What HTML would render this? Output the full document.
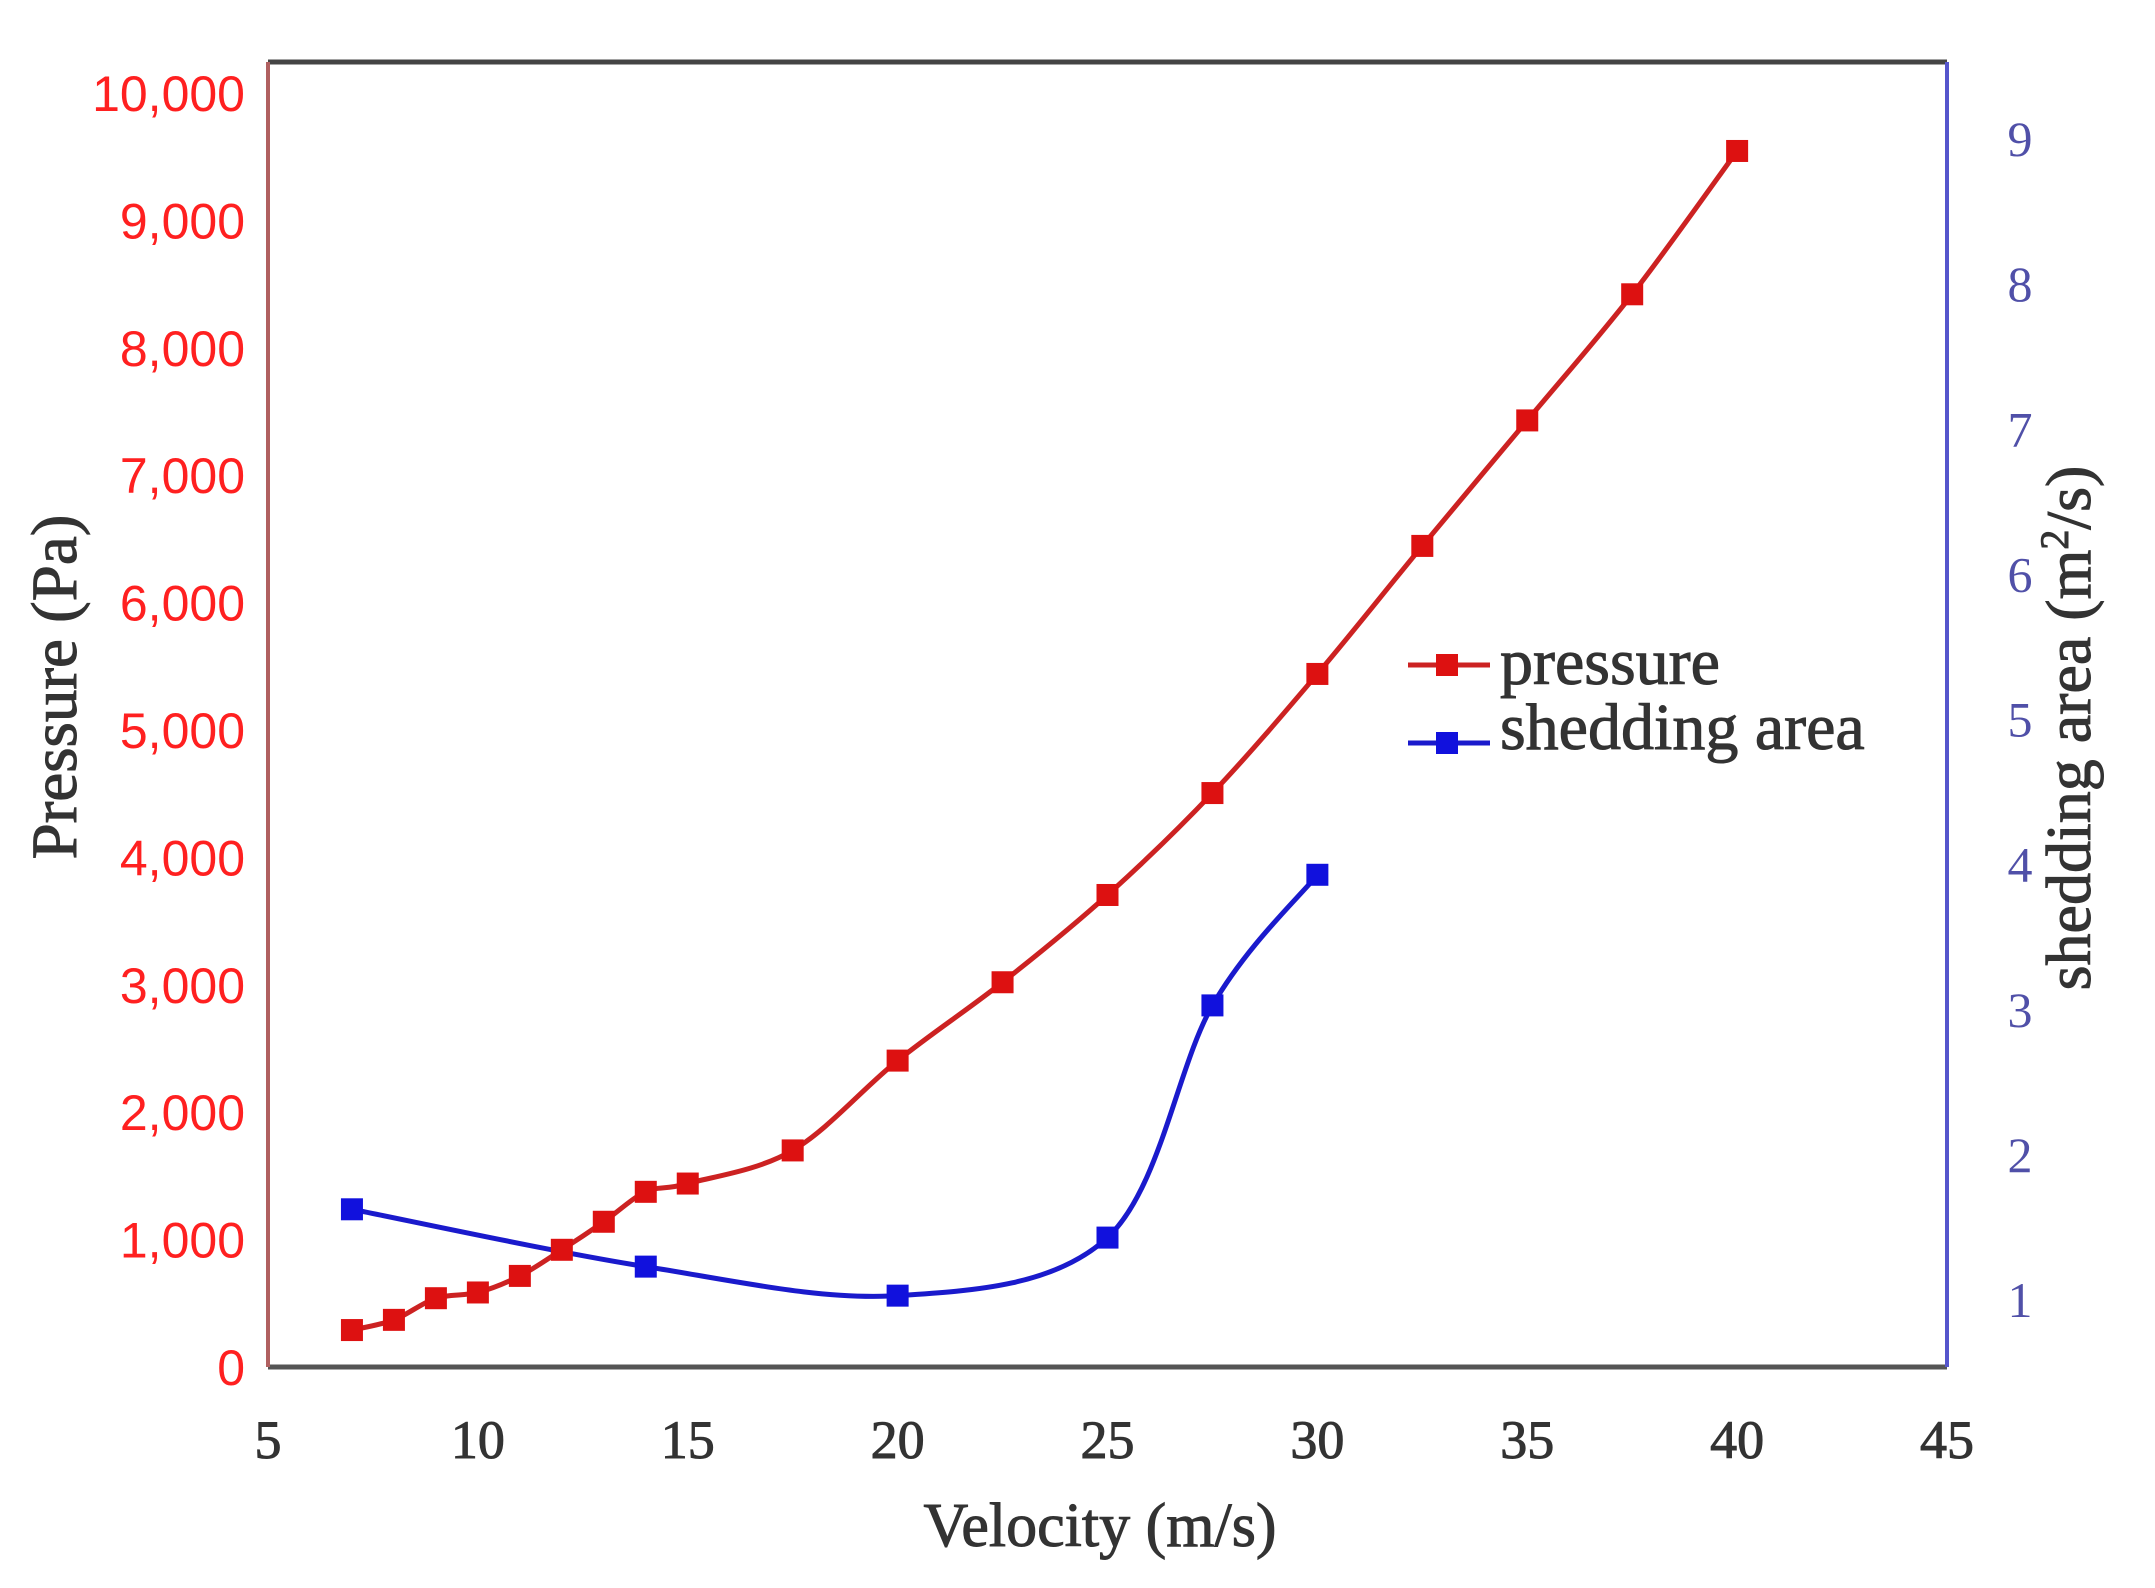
<!DOCTYPE html>
<html><head><meta charset="utf-8"><style>
html,body{margin:0;padding:0;background:#fff;}
svg{display:block;}
</style></head><body>
<svg id="s" width="2155" height="1588" xmlns="http://www.w3.org/2000/svg">
<rect width="2155" height="1588" fill="#fff"/>
<g id="plot"></g>
<line x1="268" y1="62" x2="1947" y2="62" stroke="#444" stroke-width="5"/>
<line x1="268" y1="1367" x2="1947" y2="1367" stroke="#555" stroke-width="5"/>
<line x1="268" y1="62" x2="268" y2="1367" stroke="#b06060" stroke-width="4"/>
<line x1="1947" y1="62" x2="1947" y2="1367" stroke="#5555cc" stroke-width="4"/>
<g id="ticks"></g>
<text x="1100" y="1546" font-family="Liberation Serif, serif" font-size="62" fill="#333" stroke="#333" stroke-width="1" text-anchor="middle">Velocity (m/s)</text>
<text transform="translate(76,687) rotate(-90)" font-family="Liberation Serif, serif" font-size="65" fill="#333" stroke="#333" stroke-width="1" text-anchor="middle">Pressure (Pa)</text>
<text transform="translate(2090,728) rotate(-90)" font-family="Liberation Serif, serif" font-size="64" fill="#333" stroke="#333" stroke-width="1" text-anchor="middle">shedding area (m<tspan font-size="40" dy="-22">2</tspan><tspan dy="22">/s)</tspan></text>
<line x1="1408" y1="665" x2="1490" y2="665" stroke="#cc2222" stroke-width="5"/>
<rect x="1436" y="654" width="22" height="22" fill="#dd1111"/>
<text x="1500" y="684" font-family="Liberation Serif, serif" font-size="66" fill="#333" stroke="#333" stroke-width="1">pressure</text>
<line x1="1408" y1="743" x2="1490" y2="743" stroke="#1a1acc" stroke-width="5"/>
<rect x="1436" y="732" width="22" height="22" fill="#1111dd"/>
<text x="1500" y="749" font-family="Liberation Serif, serif" font-size="66" fill="#333" stroke="#333" stroke-width="1">shedding area</text>
</svg>
<script>
var NS="http://www.w3.org/2000/svg";
function X(v){return 268+(v-5)*(1947-268)/40;}
function YL(v){return 1367-v*(1367-93)/10000;}
function YR(v){return 1300-(v-1)*(1300-139)/8;}
function el(t,a,p){var e=document.createElementNS(NS,t);for(var k in a)e.setAttribute(k,a[k]);if(p)p.appendChild(e);return e;}
var ticks=document.getElementById('ticks'),plot=document.getElementById('plot');
for(var i=0;i<=10;i++){var t=el('text',{x:245,y:YL(i*1000)+18,'font-family':'Liberation Sans, sans-serif','font-size':50,fill:'#ff2020','text-anchor':'end'},ticks);t.textContent=i==0?'0':(i==10?'10,000':i+',000');}
for(var v=5;v<=45;v+=5){var t=el('text',{x:X(v),y:1458,'font-family':'Liberation Serif, serif','font-size':54,fill:'#333',stroke:'#333','stroke-width':1,'text-anchor':'middle'},ticks);t.textContent=v;}
for(var r=1;r<=9;r++){var t=el('text',{x:2020,y:YR(r)+17,'font-family':'Liberation Serif, serif','font-size':50,fill:'#5050a8','text-anchor':'middle'},ticks);t.textContent=r;}
function cr(pts){var d='M'+pts[0][0]+','+pts[0][1];for(var i=0;i<pts.length-1;i++){var p0=pts[Math.max(i-1,0)],p1=pts[i],p2=pts[i+1],p3=pts[Math.min(i+2,pts.length-1)];var c1=[p1[0]+(p2[0]-p0[0])/6,p1[1]+(p2[1]-p0[1])/6],c2=[p2[0]-(p3[0]-p1[0])/6,p2[1]-(p3[1]-p1[1])/6];d+=' C'+c1+' '+c2+' '+p2;}return d;}
var P=[[7,290],[8,370],[9,540],[10,585],[11,715],[12,920],[13,1140],[14,1375],[15,1440],[17.5,1700],[20,2405],[22.5,3020],[25,3705],[27.5,4505],[30,5440],[32.5,6445],[35,7430],[37.5,8420],[40,9545]].map(function(p){return [X(p[0]),YL(p[1])];});
var S=[[7,1.625],[14,1.23],[20,1.03],[25,1.43],[27.5,3.03],[30,3.93]].map(function(p){return [X(p[0]),YR(p[1])];});
el('path',{d:cr(P),fill:'none',stroke:'#cc2222','stroke-width':5},plot);
el('path',{d:cr(S),fill:'none',stroke:'#1a1acc','stroke-width':5},plot);
P.forEach(function(p){el('rect',{x:p[0]-11,y:p[1]-11,width:22,height:22,fill:'#dd1111'},plot);});
S.forEach(function(p){el('rect',{x:p[0]-11,y:p[1]-11,width:22,height:22,fill:'#1111dd'},plot);});
</script>
</body></html>
